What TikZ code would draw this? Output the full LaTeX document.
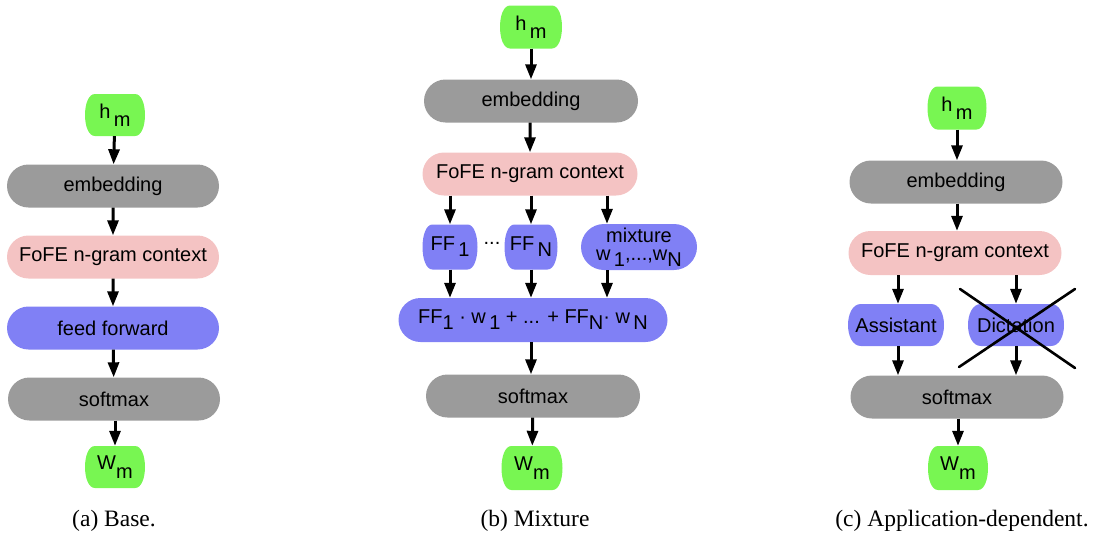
\documentclass[tikz,border=0pt]{standalone}
\usepackage{fontspec}
\setmainfont{Liberation Serif}
\newfontfamily\diagfont{Liberation Sans}
\usetikzlibrary{shapes.misc,arrows.meta}
\definecolor{cgreen}{RGB}{120,246,82}
\definecolor{cgray}{RGB}{155,155,155}
\definecolor{cpink}{RGB}{244,195,195}
\definecolor{cblue}{RGB}{128,128,245}
\newcommand{\lowsub}[1]{\raisebox{-0.3em}{#1}}
\newcommand{\deepsub}[1]{\raisebox{-0.42em}{#1}}
% name, x, y, width, height, corner inset, colour, text
\newcommand{\bulgenode}[8]{%
  \fill[#7] ({#2-#4/2+#6},{#3-#5/2}) -- ({#2+#4/2-#6},{#3-#5/2})
    .. controls ({#2+#4/2+#6/3},{#3-#5/2}) and ({#2+#4/2+#6/3},{#3+#5/2}) .. ({#2+#4/2-#6},{#3+#5/2})
    -- ({#2-#4/2+#6},{#3+#5/2})
    .. controls ({#2-#4/2-#6/3},{#3+#5/2}) and ({#2-#4/2-#6/3},{#3-#5/2}) .. cycle;
  \node[txt, rectangle, minimum width=#4pt, minimum height=#5pt] (#1) at (#2,#3) {#8};%
}
\tikzset{
  txt/.style={inner sep=0pt, font=\diagfont\fontsize{20}{23}\selectfont, text=black},
  pill/.style={txt, rounded rectangle, minimum height=43pt},
  graybox/.style={pill, fill=cgray, minimum width=212pt},
  pinkbox/.style={pill, fill=cpink, minimum width=212pt},
  bluebox/.style={pill, fill=cblue, minimum width=212pt},
  arr/.style={line width=3pt, -{Triangle[length=15pt,width=11pt]}},
  crossline/.style={line width=2.6pt, line cap=round},
  caption/.style={font=\fontsize{23.5}{26}\selectfont, inner sep=0pt}
}
\begin{document}
\begin{tikzpicture}[x=1pt,y=-1pt]
\useasboundingbox (0,0) rectangle (1093,533);
% ---------- (a) ----------
\bulgenode{a-h}{115}{115}{60}{42}{10}{cgreen}{h\,\deepsub{m}}
\node[graybox] (a-emb) at (113,186) {embedding};
\node[pinkbox] (a-fofe) at (113,257) {FoFE n-gram context};
\node[bluebox] (a-ff) at (113,328) {feed forward};
\node[graybox] (a-soft) at (114,399) {softmax};
\bulgenode{a-w}{115}{467}{60}{42}{10}{cgreen}{W\deepsub{m}}
\draw[arr] (a-h) -- (a-emb);
\draw[arr] (a-emb) -- (a-fofe);
\draw[arr] (a-fofe) -- (a-ff);
\draw[arr] (a-ff) -- (a-soft);
\draw[arr] (a-soft.south -| a-w) -- (a-w);
\node[caption] (cap-a) at (114,521) {(a) Base.};
% ---------- (b) ----------
\bulgenode{b-h}{531}{27}{62}{43}{10}{cgreen}{h\,\deepsub{m}}
\node[graybox, minimum width=214pt] (b-emb) at (531,101) {embedding};
\node[pinkbox, minimum width=215pt] (b-fofe) at (530,174) {FoFE n-gram context};
\bulgenode{b-ff1}{450}{247}{55}{45}{10}{cblue}{FF\,\lowsub{1}}
\node[txt] (b-dots) at (492,243) {...};
\bulgenode{b-ffn}{531}{247}{53}{45}{10}{cblue}{FF\,\lowsub{N}}
\node[pill, fill=cblue, minimum width=116pt, minimum height=46pt, align=center, font=\diagfont\fontsize{20}{19}\selectfont] (b-mix) at (639,247) {mixture\\[-1pt]w\,\lowsub{1},...,w\lowsub{N}};
\node[bluebox, minimum width=269pt, minimum height=44pt] (b-sum) at (533,320) {FF\lowsub{1} · w\,\lowsub{1} + ... + FF\lowsub{N}· w\,\lowsub{N}};
\node[graybox, minimum width=214pt] (b-soft) at (533,396) {softmax};
\bulgenode{b-w}{532}{468}{61}{44}{10}{cgreen}{W\deepsub{m}}
\coordinate (bmx) at (607,0);
\draw[arr] (b-h) -- (b-emb);
\draw[arr] (b-emb.south -| b-fofe) -- (b-fofe);
\draw[arr] (b-fofe.south -| b-ff1) -- (b-ff1);
\draw[arr] (b-fofe.south -| b-ffn) -- (b-ffn);
\draw[arr] (b-fofe.south -| bmx) -- (b-mix.north -| bmx);
\draw[arr] (b-ff1) -- (b-sum.north -| b-ff1);
\draw[arr] (b-ffn) -- (b-sum.north -| b-ffn);
\draw[arr] (b-mix.south -| bmx) -- (b-sum.north -| bmx);
\draw[arr] (b-sum.south -| b-ffn) -- (b-soft.north -| b-ffn);
\draw[arr] (b-soft) -- (b-w);
\node[caption] (cap-b) at (535,521) {(b) Mixture};
% ---------- (c) ----------
\bulgenode{c-h}{957}{108}{59}{43}{10}{cgreen}{h\,\deepsub{m}}
\node[graybox, minimum width=213pt] (c-emb) at (956,182) {embedding};
\node[pinkbox, minimum width=213pt, minimum height=44pt] (c-fofe) at (955,253) {FoFE n-gram context};
\bulgenode{c-asst}{896}{325}{96}{42}{13}{cblue}{Assistant}
\bulgenode{c-dict}{1016}{325}{96}{42}{13}{cblue}{Dictation}
\node[graybox, minimum width=213pt] (c-soft) at (957,397) {softmax};
\bulgenode{c-w}{958}{468}{60}{44}{10}{cgreen}{W\deepsub{m}}
\coordinate (cax) at (898,0);
\draw[arr] (c-h) -- (c-emb.north -| c-h);
\draw[arr] (c-emb.south -| c-h) -- (c-fofe.north -| c-h);
\draw[arr] (c-fofe.south -| cax) -- (c-asst.north -| cax);
\draw[arr] (c-fofe.south -| c-dict) -- (c-dict);
\draw[arr] (c-asst.south -| cax) -- (c-soft.north -| cax);
\draw[arr] (c-dict) -- (c-soft.north -| c-dict);
\draw[arr] (c-soft.south -| c-w) -- (c-w);
\coordinate (x1) at (960,289);
\coordinate (x2) at (1075,368);
\coordinate (x3) at (959,367);
\coordinate (x4) at (1075,289);
\draw[crossline] (x1) -- (x2);
\draw[crossline] (x3) -- (x4);
\node[caption] (cap-c) at (962,521) {(c) Application-dependent.};
\end{tikzpicture}
\end{document}
